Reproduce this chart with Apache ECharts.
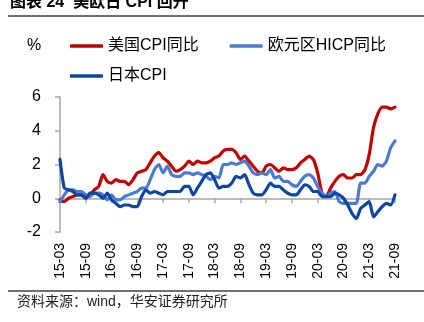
<!DOCTYPE html>
<html>
<head>
<meta charset="utf-8">
<script src="https://cdn.jsdelivr.net/npm/echarts@6/dist/echarts.min.js"></script>
<style>
html,body{margin:0;padding:0;background:#fff;}
#c{width:424px;height:322px;}
</style>
</head>
<body>
<div id="c"></div>
<script>
var categories = [
"15-03","15-04","15-05","15-06","15-07","15-08","15-09","15-10","15-11","15-12",
"16-01","16-02","16-03","16-04","16-05","16-06","16-07","16-08","16-09","16-10","16-11","16-12",
"17-01","17-02","17-03","17-04","17-05","17-06","17-07","17-08","17-09","17-10","17-11","17-12",
"18-01","18-02","18-03","18-04","18-05","18-06","18-07","18-08","18-09","18-10","18-11","18-12",
"19-01","19-02","19-03","19-04","19-05","19-06","19-07","19-08","19-09","19-10","19-11","19-12",
"20-01","20-02","20-03","20-04","20-05","20-06","20-07","20-08","20-09","20-10","20-11","20-12",
"21-01","21-02","21-03","21-04","21-05","21-06","21-07","21-08","21-09"
];
var usCPI = [
-0.1,-0.2,0.0,0.1,0.2,0.2,0.0,0.2,0.5,0.7,
1.4,1.0,0.9,1.1,1.0,1.0,0.8,1.1,1.5,1.6,1.7,2.1,
2.5,2.7,2.4,2.2,1.9,1.6,1.7,1.9,2.2,2.0,2.2,2.1,
2.1,2.2,2.4,2.5,2.8,2.9,2.9,2.7,2.3,2.5,2.2,1.9,
1.6,1.5,1.9,2.0,1.8,1.6,1.8,1.7,1.7,1.8,2.1,2.3,
2.5,2.3,1.5,0.3,0.1,0.6,1.0,1.3,1.4,1.2,1.2,1.4,
1.4,1.7,2.6,4.2,5.0,5.4,5.4,5.3,5.4
];
var euroHICP = [
-0.2,0.2,0.5,0.5,0.4,0.4,0.2,0.1,0.3,0.3,
0.2,-0.1,0.2,-0.1,-0.1,0.1,0.2,0.3,0.4,0.6,0.6,1.1,
1.7,2.0,1.5,1.9,1.4,1.3,1.3,1.5,1.5,1.4,1.5,1.4,
1.3,1.1,1.3,1.2,2.0,2.0,2.1,2.0,2.1,2.2,1.9,1.5,
1.4,1.5,1.4,1.7,1.2,1.3,1.0,1.0,0.8,0.7,1.0,1.3,
1.4,1.2,0.7,0.3,0.1,0.3,0.4,-0.2,-0.3,-0.3,-0.3,-0.3,
0.9,0.9,1.3,1.6,2.0,1.9,2.2,3.0,3.4
];
var japanCPI = [
2.3,0.6,0.5,0.4,0.2,0.2,0.0,0.3,0.3,0.2,
0.0,0.3,-0.1,-0.3,-0.5,-0.4,-0.4,-0.5,-0.5,0.1,0.5,0.3,
0.4,0.3,0.2,0.4,0.4,0.4,0.4,0.7,0.7,0.2,0.6,1.0,
1.4,1.5,1.1,0.6,0.7,0.7,0.9,1.3,1.2,1.4,0.8,0.3,
0.2,0.2,0.5,0.9,0.7,0.7,0.5,0.3,0.2,0.2,0.5,0.8,
0.7,0.4,0.4,0.1,0.1,0.1,0.3,0.2,0.0,-0.4,-0.9,-1.2,
-0.6,-0.4,-0.2,-1.1,-0.8,-0.5,-0.3,-0.4,0.2
];
var seriesNames = ["美国CPI同比","欧元区HICP同比","日本CPI"];
var yTicks = {min:-2, max:6, interval:2};

var FONT = "'Liberation Sans', Arial, 'Noto Sans CJK SC', sans-serif";
var axisGray = "#A6A6A6";
var chart = echarts.init(document.getElementById('c'), null, {renderer:'canvas'});

function lineSeries(name, data, color) {
  return {
    name: name, type: 'line', data: data, xAxisIndex: 0,
    symbol: 'none', showSymbol: false, smooth: 0.2,
    lineStyle: {color: color, width: 3.2, cap: 'round', join: 'round'},
    itemStyle: {color: color},
    emphasis: {disabled: true}
  };
}

var legendText = {fontSize: 16, color: '#000', fontFamily: FONT};

chart.setOption({
  animation: false,
  backgroundColor: '#fff',
  textStyle: {fontFamily: FONT},
  grid: {left: 60, right: 29, top: 97, bottom: 90, containLabel: false},
  legend: [
    {data: [seriesNames[0], seriesNames[1]], left: 65, top: 33, icon: 'roundRect',
     itemWidth: 33, itemHeight: 3.5, itemGap: 31, textStyle: legendText},
    {data: [seriesNames[2]], left: 65, top: 63, icon: 'roundRect',
     itemWidth: 33, itemHeight: 3.5, textStyle: legendText}
  ],
  xAxis: [
    {type: 'category', data: categories, boundaryGap: false, position: 'bottom',
     axisLine: {show: false, onZero: false}, axisTick: {show: false},
     axisLabel: {rotate: 90, interval: 5, fontSize: 14, margin: 11, color: '#000', fontFamily: FONT},
     splitLine: {show: false}},
    {type: 'category', data: categories, boundaryGap: false, position: 'bottom',
     axisLine: {show: true, onZero: true, lineStyle: {color: axisGray, width: 1.5}},
     axisTick: {show: true, interval: 5, length: 5, lineStyle: {color: axisGray, width: 1.5}},
     axisLabel: {show: false}, splitLine: {show: false}}
  ],
  yAxis: {
    type: 'value', min: yTicks.min, max: yTicks.max, interval: yTicks.interval,
    axisLine: {show: true, lineStyle: {color: axisGray, width: 1.5}},
    axisTick: {show: true, length: 5, lineStyle: {color: axisGray, width: 1.5}},
    axisLabel: {fontSize: 16, margin: 19, color: '#000', fontFamily: FONT},
    splitLine: {show: false}
  },
  series: [
    lineSeries(seriesNames[0], usCPI, '#C00000'),
    lineSeries(seriesNames[1], euroHICP, '#4A7BD0'),
    lineSeries(seriesNames[2], japanCPI, '#0B47A1')
  ],
  graphic: [
    {type: 'text', left: 10, top: -5, style: {text: '图表 24  美欧日 CPI 回升', fill: '#000', font: "bold 16px " + FONT}},
    {type: 'line', shape: {x1: 8, y1: 16, x2: 424, y2: 16}, style: {stroke: '#404040', lineWidth: 1.5}},
    {type: 'text', left: 27, top: 38, style: {text: '%', fill: '#000', font: "16px " + FONT}},
    {type: 'line', shape: {x1: 8, y1: 291, x2: 424, y2: 291}, style: {stroke: '#404040', lineWidth: 1.5}},
    {type: 'text', left: 17, top: 295, style: {text: '资料来源：wind，华安证券研究所', fill: '#222', font: "14px " + FONT}}
  ]
});
</script>
</body>
</html>
